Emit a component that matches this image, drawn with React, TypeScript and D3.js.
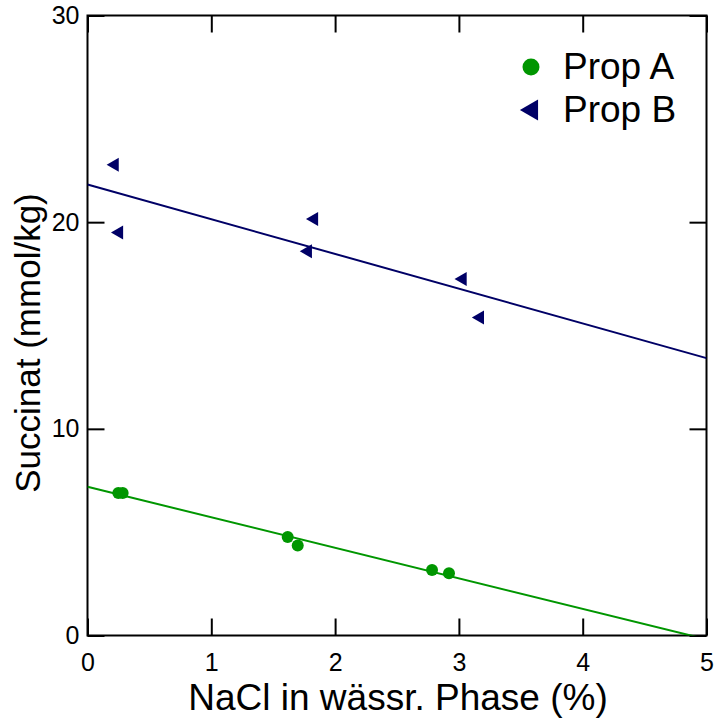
import React, { useEffect, useRef } from "react";
import * as d3 from "d3";

const propA_x = [0.249, 0.284, 1.617, 1.698, 2.783, 2.92];
const propA_y = [6.89, 6.89, 4.77, 4.35, 3.17, 3.01];
const propB_x = [0.22, 0.255, 1.83, 1.78, 3.03, 3.17];
const propB_y = [22.78, 19.5, 20.15, 18.59, 17.25, 15.39];
const xTicks = [0, 1, 2, 3, 4, 5];
const yTicks = [0, 10, 20, 30];
const seriesNames = ["Prop A", "Prop B"];
const xTitle = "NaCl in wässr. Phase (%)";
const yTitle = "Succinat (mmol/kg)";

const W = 715;
const H = 721;
const M = { left: 87.5, right: 706.5, top: 15.5, bottom: 635.5 };
const GREEN = "#009600";
const NAVY = "#000066";
const FONT = "'Liberation Sans', Arial, sans-serif";

function fit(xs: number[], ys: number[]) {
  const mx = d3.mean(xs)!;
  const my = d3.mean(ys)!;
  let sxy = 0, sxx = 0;
  xs.forEach((x, i) => {
    sxy += (x - mx) * (ys[i] - my);
    sxx += (x - mx) * (x - mx);
  });
  const b = sxy / sxx;
  return { a: my - b * mx, b };
}

export default function App() {
  const ref = useRef<SVGSVGElement>(null);
  useEffect(() => {
    const svg = d3.select(ref.current!);
    svg.selectAll("*").remove();
    const x = d3.scaleLinear().domain([0, 5]).range([M.left, M.right]);
    const y = d3.scaleLinear().domain([0, 30]).range([M.bottom, M.top]);
    const TL = 17;

    svg.append("defs").append("clipPath").attr("id", "clip")
      .append("rect").attr("x", M.left).attr("y", M.top)
      .attr("width", M.right - M.left).attr("height", M.bottom - M.top);

    const styleAxis = (g: any) => {
      g.select(".domain").remove();
      g.selectAll(".tick line").attr("stroke", "#000").attr("stroke-width", 2);
      g.selectAll("text").attr("font-family", FONT).attr("font-size", 25).attr("fill", "#000");
    };

    svg.append("g").attr("transform", `translate(0,${M.bottom})`)
      .call(d3.axisBottom(x).tickValues(xTicks).tickFormat(d3.format("d")).tickSize(-TL).tickPadding(18))
      .call(styleAxis);
    svg.append("g").attr("transform", `translate(0,${M.top})`)
      .call(d3.axisTop(x).tickValues(xTicks).tickFormat(() => "").tickSize(-TL))
      .call(styleAxis);
    svg.append("g").attr("transform", `translate(${M.left},0)`)
      .call(d3.axisLeft(y).tickValues(yTicks).tickFormat(d3.format("d")).tickSize(-TL).tickPadding(8))
      .call(styleAxis);
    svg.append("g").attr("transform", `translate(${M.right},0)`)
      .call(d3.axisRight(y).tickValues(yTicks).tickFormat(() => "").tickSize(-TL))
      .call(styleAxis);

    svg.append("rect").attr("x", M.left).attr("y", M.top)
      .attr("width", M.right - M.left).attr("height", M.bottom - M.top)
      .attr("fill", "none").attr("stroke", "#000").attr("stroke-width", 2);

    const series = [
      { xs: propA_x, ys: propA_y, color: GREEN, shape: "circle" },
      { xs: propB_x, ys: propB_y, color: NAVY, shape: "tri" },
    ];

    series.forEach((s) => {
      const f = fit(s.xs, s.ys);
      const pts: [number, number][] = [0, 5].map((v) => [x(v), y(f.a + f.b * v)]);
      svg.append("path").attr("d", d3.line()(pts)!).attr("stroke", s.color)
        .attr("stroke-width", 2).attr("fill", "none").attr("clip-path", "url(#clip)");
      const g = svg.append("g");
      s.xs.forEach((xv, i) => {
        if (s.shape === "circle") {
          g.append("circle").attr("cx", x(xv)).attr("cy", y(s.ys[i])).attr("r", 6).attr("fill", s.color);
        } else {
          g.append("path").attr("d", d3.symbol(d3.symbolTriangle, 85)()!)
            .attr("transform", `translate(${x(xv)},${y(s.ys[i])}) rotate(-90)`)
            .attr("fill", s.color);
        }
      });
    });

    // Legend
    const lg = svg.append("g");
    lg.append("circle").attr("cx", 531).attr("cy", 67).attr("r", 8.5).attr("fill", GREEN);
    lg.append("path").attr("d", d3.symbol(d3.symbolTriangle, 190)()!)
      .attr("transform", `translate(532,110) rotate(-90)`).attr("fill", NAVY);
    seriesNames.forEach((n, i) => {
      lg.append("text").attr("x", 563).attr("y", 79 + i * 43).text(n)
        .attr("font-family", FONT).attr("font-size", 37).attr("fill", "#000");
    });

    svg.append("text").attr("x", (M.left + M.right) / 2 + 1).attr("y", 710)
      .attr("text-anchor", "middle").attr("font-family", FONT).attr("font-size", 37).text(xTitle);
    svg.append("text").attr("transform", `translate(40,343) rotate(-90)`)
      .attr("text-anchor", "middle").attr("font-family", FONT).attr("font-size", 35).text(yTitle);
  }, []);

  return (
    <svg ref={ref} width={W} height={H}
      style={{ position: "absolute", left: 0, top: 0, background: "#fff" }} />
  );
}
